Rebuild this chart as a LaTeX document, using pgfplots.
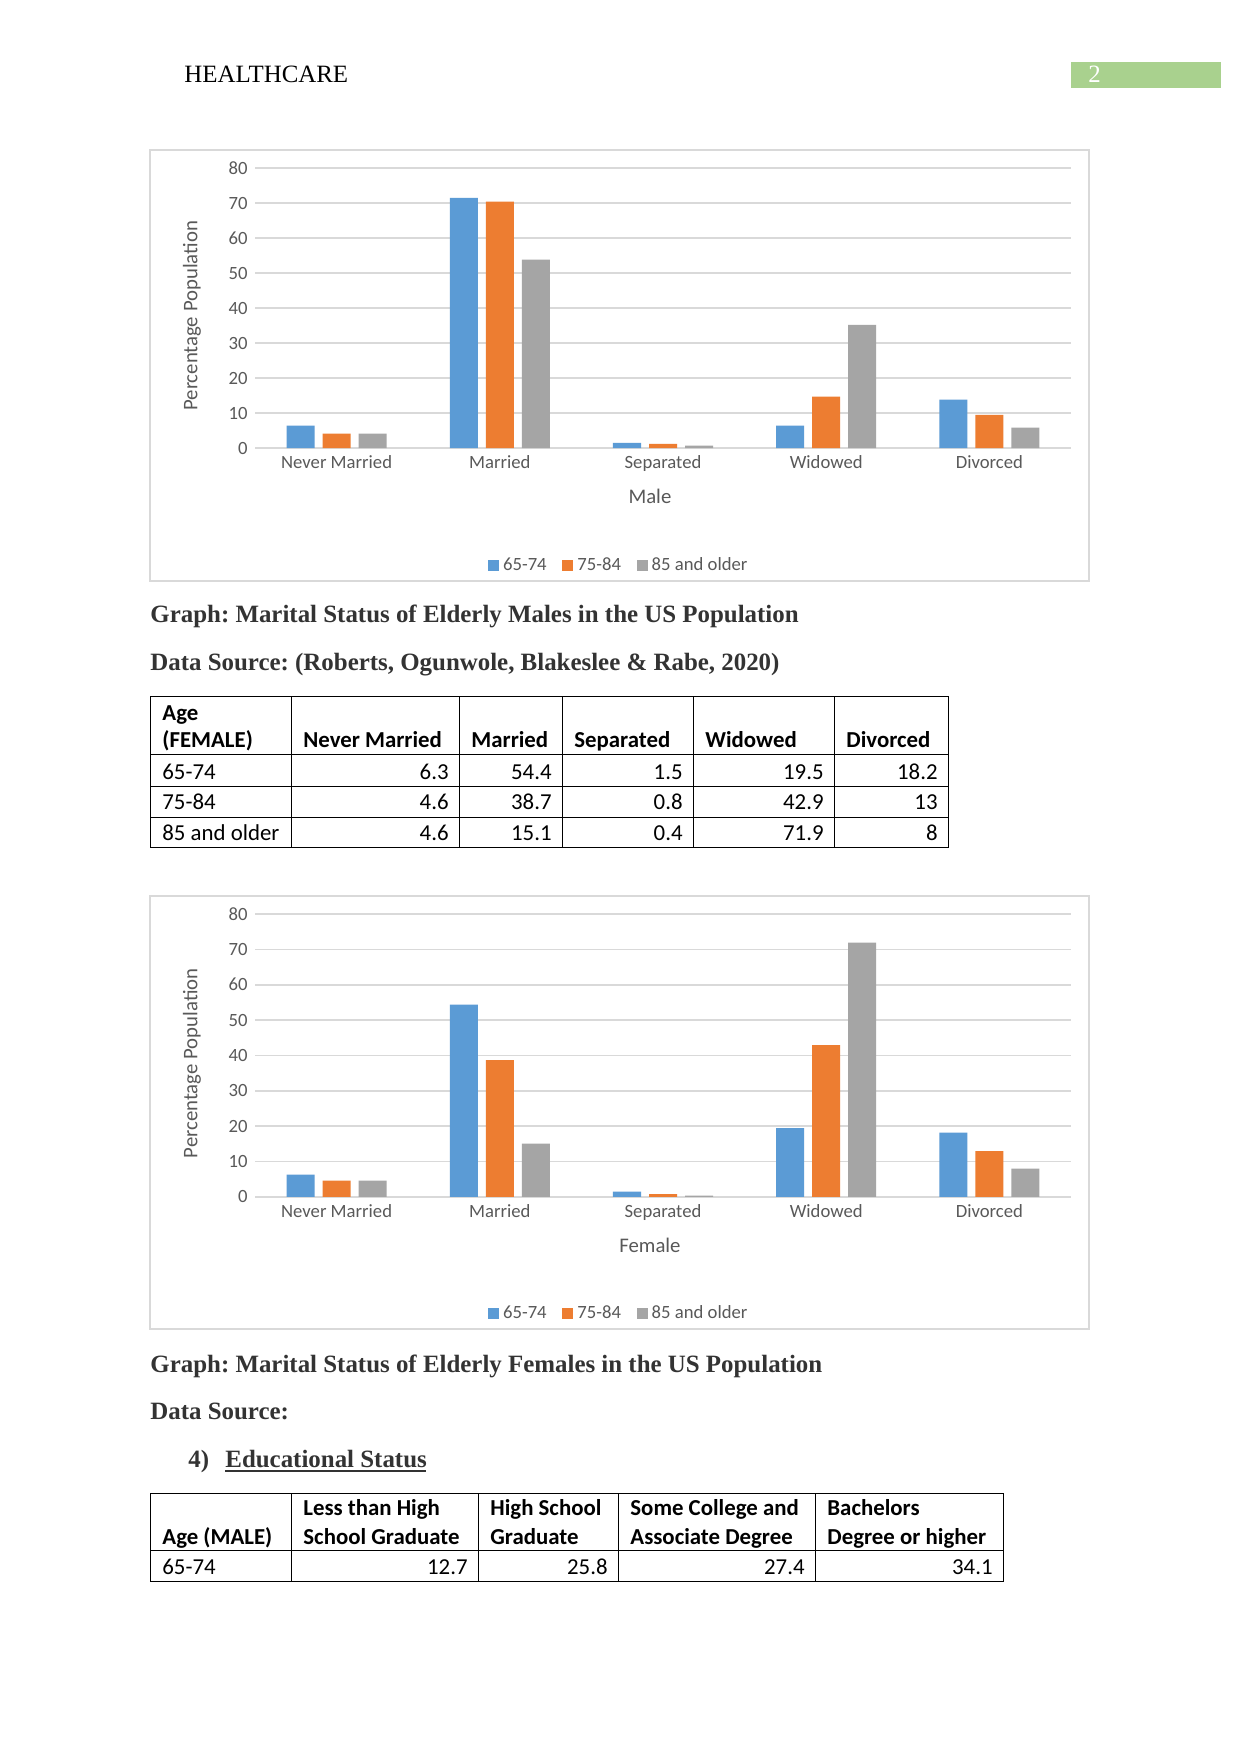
\documentclass[border=0pt]{standalone}
\usepackage{fontspec}
\setmainfont{Liberation Serif}
\newfontfamily\calibri{Carlito}
\usepackage{pgfplots}
\pgfplotsset{compat=1.18}
\frenchspacing
\definecolor{cblue}{HTML}{5B9BD5}
\definecolor{corange}{HTML}{ED7D31}
\definecolor{cgray}{HTML}{A5A5A5}
\definecolor{gridc}{HTML}{D9D9D9}
\definecolor{txt}{HTML}{595959}
\definecolor{hgreen}{HTML}{A9D18E}
\definecolor{capc}{HTML}{333333}
\pgfplotsset{
 mychart/.style={
  scale only axis, width=393.15pt, anchor=south west,
  xmin=-0.5, xmax=4.5, ymin=0, ymax=80,
  xtick={0,1,2,3,4},
  xticklabels={Never Married,Married,Separated,Widowed,Divorced},
  ytick={0,10,...,80},
  major tick length=0pt,
  axis line style={draw=none},
  ymajorgrids, grid style={draw=gridc, line width=0.75pt},
  tick label style={font=\calibri\fontsize{9}{11}\selectfont, text=txt},
  /pgf/number format/assume math mode=true,
  ybar=3.85pt, bar width=13.5pt,
  ylabel={Percentage Population},
  ylabel style={font=\calibri\fontsize{10}{12}\selectfont, text=txt, at={(axis description cs:-0.0772,0.472)}, anchor=center},
  xlabel style={font=\calibri\fontsize{10}{12}\selectfont, text=txt, at={(axis description cs:0.484,-0.172)}, anchor=center},
  legend style={draw=none, fill=none, font=\calibri\fontsize{9}{11}\selectfont, text=txt, legend columns=3, anchor=center, /tikz/every even column/.append style={column sep=5.5pt}},
  legend cell align=left,
  clip=false,
 },
 bars/.style={draw=none, fill=#1, legend image code/.code={\fill[fill=#1] (0pt,-2.65pt) rectangle (5.3pt,2.65pt);}},
}
\begin{document}
\begin{tikzpicture}
\begin{scope}[x=0.4818pt,y=-0.4818pt,
  tb/.style={anchor=base west, inner sep=0, font=\calibri\bfseries\fontsize{11}{13}\selectfont},
  tl/.style={anchor=base west, inner sep=0, font=\calibri\fontsize{11}{13}\selectfont},
  tn/.style={anchor=base east, inner sep=0, font=\calibri\fontsize{11}{13}\selectfont},
  capt/.style={anchor=base west, inner sep=0, font=\bfseries\fontsize{12}{14}\selectfont, text=capc}]
\fill[white] (0,0) rectangle (1241,1754);
% header
\node[anchor=base west, inner sep=0, font=\fontsize{12}{14}\selectfont] at (184,83) {HEALTHCARE};
\fill[hgreen] (1071,62) rectangle (1221,88);
\node[anchor=base west, inner sep=0, text=white, font=\fontsize{12}{14}\selectfont] at (1088,83) {2};
% chart frames
\draw[gridc, line width=0.6pt] (150,150) rectangle (1089,581);
\draw[gridc, line width=0.6pt] (150,896) rectangle (1089,1329);
% captions
\node[capt] at (150,622) {Graph: Marital Status of Elderly Males in the US Population};
\node[capt] at (150,670) {Data Source: (Roberts, Ogunwole, Blakeslee \& Rabe, 2020)};
\node[capt] at (150,1372) {Graph: Marital Status of Elderly Females in the US Population};
\node[capt] at (150,1419) {Data Source:};
\node[capt] at (188,1467) {4)};
\node[capt] at (225,1467) {Educational Status};
\draw[capc, line width=0.6pt] (225,1471) -- (426,1471);
% table 1
\begin{scope}[line width=0.45pt]
\draw (150,696) rectangle (948,847);
\foreach \x in {291,459,562,693,834} \draw (\x,696) -- (\x,847);
\foreach \y in {754,786,817} \draw (150,\y) -- (948,\y);
\end{scope}
\node[tb] at (162,720) {Age};
\node[tb] at (162,747) {(FEMALE)};
\node[tb] at (303,747) {Never Married};
\node[tb] at (471,747) {Married};
\node[tb] at (574,747) {Separated};
\node[tb] at (705,747) {Widowed};
\node[tb] at (846,747) {Divorced};
\node[tl] at (162,779) {65-74};
\node[tl] at (162,809) {75-84};
\node[tl] at (162,840) {85 and older};
\node[tn] at (449,779) {6.3};  \node[tn] at (552,779) {54.4}; \node[tn] at (683,779) {1.5}; \node[tn] at (824,779) {19.5}; \node[tn] at (938,779) {18.2};
\node[tn] at (449,809) {4.6};  \node[tn] at (552,809) {38.7}; \node[tn] at (683,809) {0.8}; \node[tn] at (824,809) {42.9}; \node[tn] at (938,809) {13};
\node[tn] at (449,840) {4.6};  \node[tn] at (552,840) {15.1}; \node[tn] at (683,840) {0.4}; \node[tn] at (824,840) {71.9}; \node[tn] at (938,840) {8};
% table 2
\begin{scope}[line width=0.45pt]
\draw (150,1493) rectangle (1003,1581);
\foreach \x in {291,478,618,815} \draw (\x,1493) -- (\x,1581);
\draw (150,1550) -- (1003,1550);
\end{scope}
\node[tb] at (162,1544) {Age (MALE)};
\node[tb] at (303,1515) {Less than High};
\node[tb] at (303,1544) {School Graduate};
\node[tb] at (490,1515) {High School};
\node[tb] at (490,1544) {Graduate};
\node[tb] at (630,1515) {Some College and};
\node[tb] at (630,1544) {Associate Degree};
\node[tb] at (827,1515) {Bachelors};
\node[tb] at (827,1544) {Degree or higher};
\node[tl] at (162,1574) {65-74};
\node[tn] at (468,1574) {12.7};
\node[tn] at (608,1574) {25.8};
\node[tn] at (805,1574) {27.4};
\node[tn] at (993,1574) {34.1};
\end{scope}

% chart 1: male
\begin{axis}[mychart, height=134.9pt, at={(122.86pt,-215.85pt)}, xlabel={Male},
  legend style={at={(0.447,-0.42)}}]
\addplot[bars=cblue] coordinates {(0,6.4) (1,71.5) (2,1.5) (3,6.4) (4,13.8)};
\addplot[bars=corange] coordinates {(0,4.1) (1,70.4) (2,1.2) (3,14.7) (4,9.5)};
\addplot[bars=cgray] coordinates {(0,4.1) (1,53.8) (2,0.7) (3,35.2) (4,5.8)};
\legend{65-74,75-84,85 and older}
\end{axis}

% chart 2: female
\begin{axis}[mychart, height=136.35pt, at={(122.86pt,-576.7pt)}, xlabel={Female},
  legend style={at={(0.447,-0.413)}}]
\addplot[bars=cblue] coordinates {(0,6.3) (1,54.4) (2,1.5) (3,19.5) (4,18.2)};
\addplot[bars=corange] coordinates {(0,4.6) (1,38.7) (2,0.8) (3,42.9) (4,13)};
\addplot[bars=cgray] coordinates {(0,4.6) (1,15.1) (2,0.4) (3,71.9) (4,8)};
\legend{65-74,75-84,85 and older}
\end{axis}
\end{tikzpicture}
\end{document}
